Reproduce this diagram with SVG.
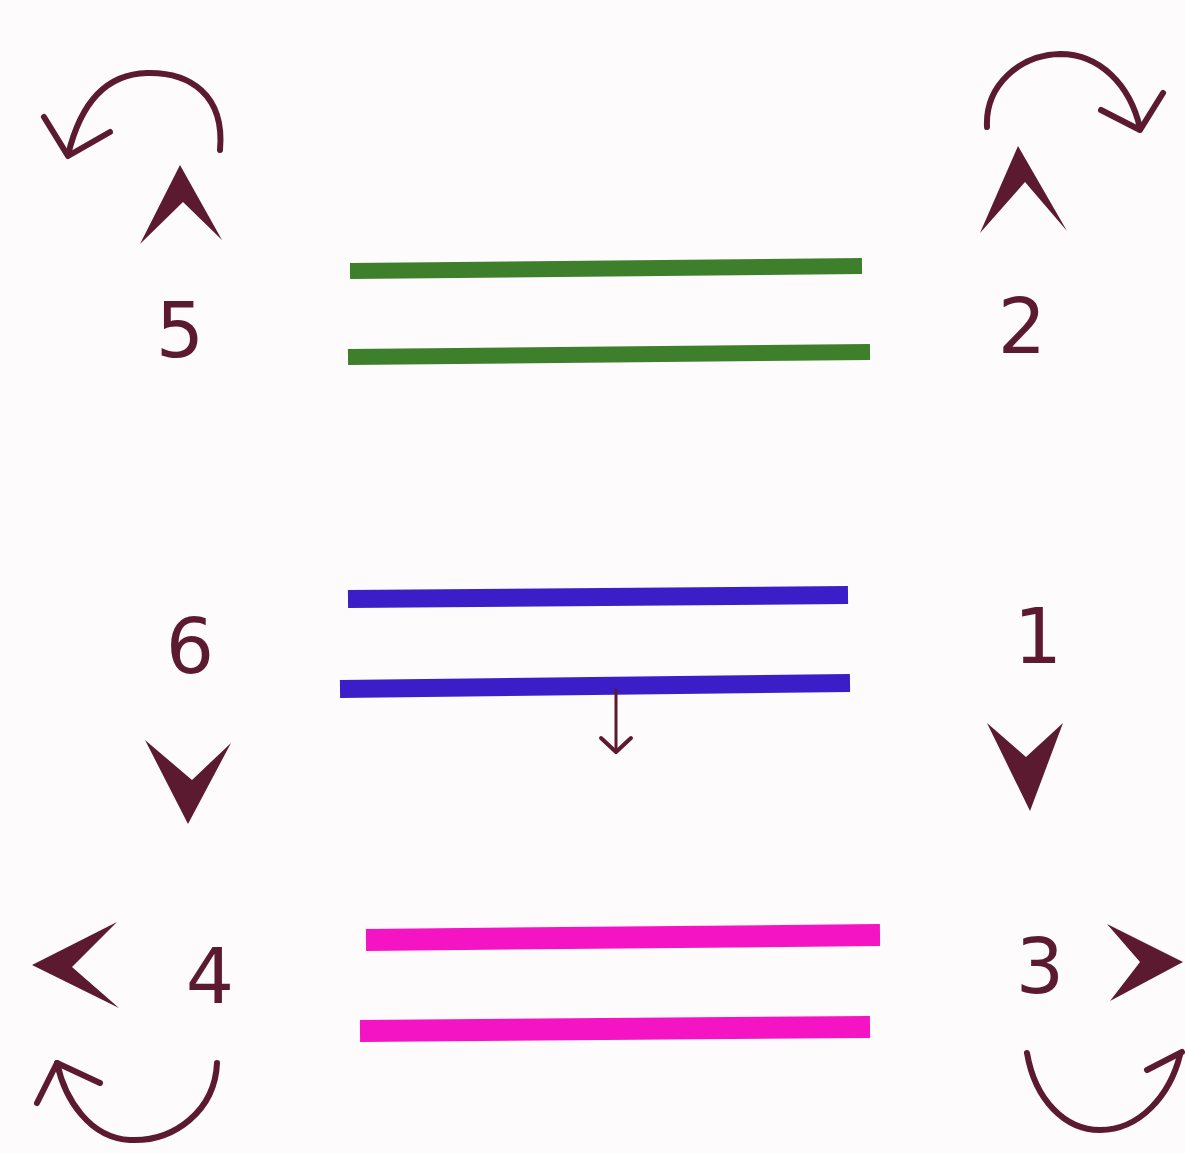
<svg xmlns="http://www.w3.org/2000/svg" width="1185" height="1153" viewBox="0 0 1185 1153">
<style>
.bg{fill:#fdfbfb}
.g{stroke:#3e7f2c;stroke-width:16;stroke-linecap:butt}
.b{stroke:#3b1ec8;stroke-width:18}
.m{stroke:#f414c4;stroke-width:22}
.c{fill:#5c1a30}
.arc{fill:none;stroke:#5c1a30;stroke-width:6;stroke-linecap:round;stroke-linejoin:round}
.n{font-family:"DejaVu Sans",sans-serif;font-size:76px;fill:#5c1a30;text-anchor:middle}
</style>
<rect class="bg" width="1185" height="1153"/>
<g id="green-lines">
<line class="g" x1="350" y1="271" x2="862" y2="266"/>
<line class="g" x1="348" y1="357" x2="870" y2="352"/>
</g>
<g id="blue-lines">
<line class="b" x1="348" y1="599" x2="848" y2="595"/>
<line class="b" x1="340" y1="689" x2="850" y2="683"/>
</g>
<g id="magenta-lines">
<line class="m" x1="366" y1="940" x2="880" y2="935"/>
<line class="m" x1="360" y1="1031" x2="870" y2="1027"/>
</g>
<g id="labels">
<text class="n" x="180" y="357">5</text>
<text class="n" x="1022" y="353">2</text>
<text class="n" x="190" y="673">6</text>
<text class="n" x="1038" y="663">1</text>
<text class="n" x="210" y="1003">4</text>
<text class="n" x="1040" y="993">3</text>
</g>
<g id="chevrons">
<polygon class="c" points="180,165 222,240 183,202 140,244"/>
<polygon class="c" points="1018,146 1067,231 1025,182 980,233"/>
<polygon class="c" points="145,740 192,780 231,743 188,824"/>
<polygon class="c" points="987,723 1026,757 1063,723 1030,811"/>
<polygon class="c" points="32,965 117,922 72,967 119,1008"/>
<polygon class="c" points="1107,924 1183,962 1110,1001 1140,962"/>
</g>
<g id="connectors">
<path class="arc" d="M220,150 C225,95 190,72 147,73 C105,74 80,105 68,155"/>
<path class="arc" d="M44,117 L68,156 L110,132"/>
<path class="arc" d="M987,127 C985,85 1020,55 1060,54 C1100,54 1130,85 1140,128"/>
<path class="arc" d="M1101,110 L1140,130 L1163,93"/>
<path class="arc" d="M217,1063 C215,1110 175,1142 130,1140 C90,1138 65,1100 57,1063"/>
<path class="arc" d="M37,1103 L57,1063 L100,1083"/>
<path class="arc" d="M1027,1053 C1035,1100 1065,1130 1100,1130 C1140,1130 1170,1095 1180,1055"/>
<path class="arc" d="M1147,1070 L1182,1052"/>
<path class="arc" d="M616,690 L616,752" style="stroke-width:3"/>
<path class="arc" d="M601,738 L616,752 L631,738" style="stroke-width:4"/>
</g>
</svg>
